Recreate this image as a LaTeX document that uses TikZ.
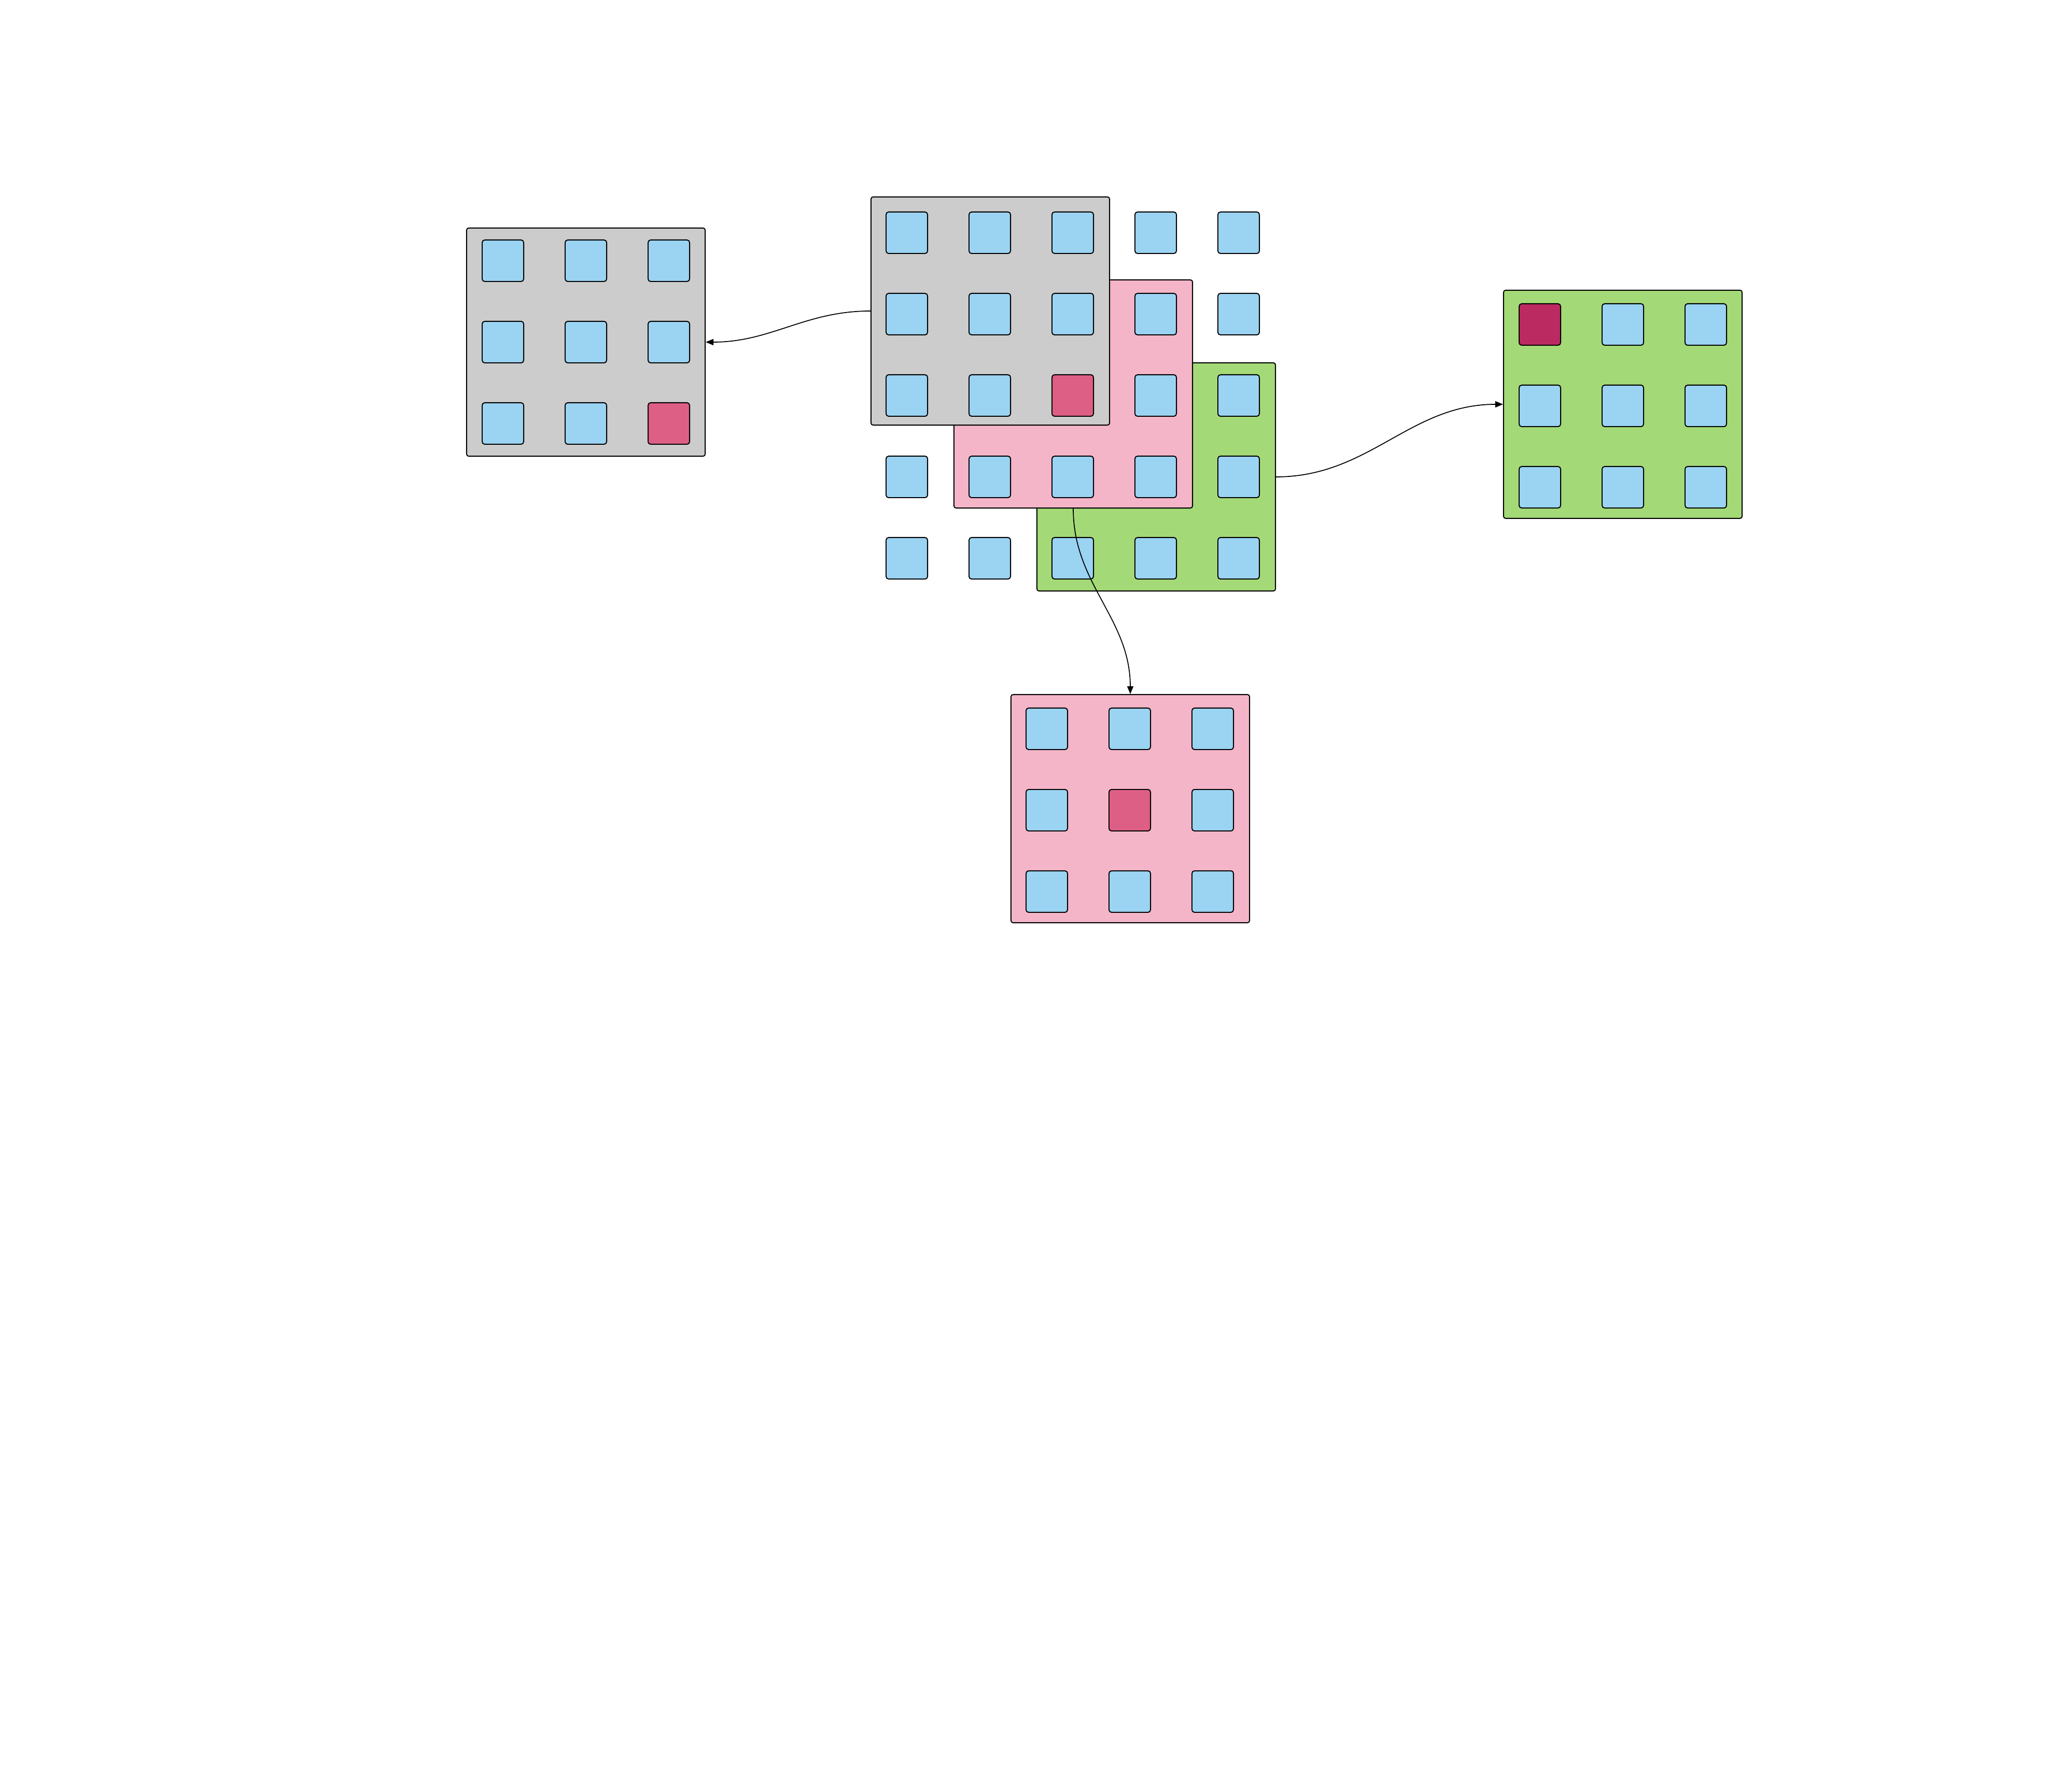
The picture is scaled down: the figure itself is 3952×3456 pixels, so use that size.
\documentclass[tikz,border=0pt]{standalone}
\usepackage{tikz}
\usetikzlibrary{arrows.meta}

\definecolor{sky}{HTML}{9BD3F2}
\definecolor{wingray}{HTML}{CCCCCC}
\definecolor{winpink}{HTML}{F4B5C8}
\definecolor{wingreen}{HTML}{A4D977}
\definecolor{hot}{HTML}{DE5F86}
\definecolor{hotdark}{HTML}{BC2A62}

\begin{document}
\begin{tikzpicture}[
    x=0.01cm, y=0.01cm,
    win/.style={draw, line width=0.55pt, rounded corners=1.2pt, minimum width=4.6cm, minimum height=4.4cm, inner sep=0pt},
    cell/.style={draw, fill=#1, line width=0.55pt, rounded corners=1.4pt, minimum size=0.8cm, inner sep=0pt},
    cell/.default=sky,
    flow/.style={-{Triangle[length=1.5mm,width=1.2mm]}, line width=0.5pt},
]
\useasboundingbox (0,0) rectangle (3952,3456);

% Three windows over the 5x5 grid (back to front)
\node[win, fill=wingreen] (green) at (2230,2536) {};
\node[win, fill=winpink] (pink) at (2070,2696) {};
\node[win, fill=wingray] (gray) at (1910,2856) {};

% The 5x5 grid
\foreach \r in {1,...,5}{
  \foreach \c in {1,...,5}{
    \ifnum\r\c=33 \def\f{hot}\else\def\f{sky}\fi
    \node[cell=\f] (c\r\c) at ({1749+160*(\c-1)},{3007-157*(\r-1)}) {};
  }
}

% Copied windows
\node[win, fill=wingray] (grayout) at (1130,2796) {};
\node[win, fill=winpink] (pinkout) at (2180,1896) {};
\node[win, fill=wingreen] (greenout) at (3130,2676) {};

\foreach \p/\x/\y/\h/\k in {a/1130/2796/33/hot, b/2179/1893/22/hot, d/3130/2673/11/hotdark}{
  \foreach \r in {1,2,3}{
    \foreach \c in {1,2,3}{
      \ifnum\r\c=\h \def\f{\k}\else\def\f{sky}\fi
      \node[cell=\f] (\p\r\c) at ({\x+160*(\c-2)},{\y-157*(\r-2)}) {};
    }
  }
}

% Connectors
\draw[flow] (gray.west) to[out=180,in=0] (grayout.east);
\draw[flow] (green.east) to[out=0,in=180] (greenout.west);
\draw[flow] (pink.south) to[out=-90,in=90] (pinkout.north);
\end{tikzpicture}
\end{document}
